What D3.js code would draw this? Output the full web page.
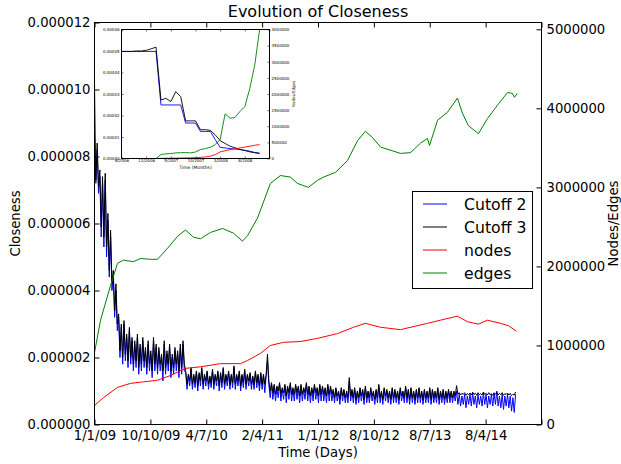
<!DOCTYPE html>
<html><head><meta charset="utf-8">
<script src="https://cdn.jsdelivr.net/npm/d3@7/dist/d3.min.js"></script>
<style>
body{margin:0;background:#fff}
svg{display:block;font-family:"DejaVu Sans",sans-serif}
</style>
</head><body>
<svg id="chart" width="621" height="464"></svg>
<script>
// ---------------- DATA ----------------
const xTickDays = [0, 250, 500, 750, 1000, 1250, 1500, 1750, 2000];
const xTickLabels = ["1/1/09", "10/10/09", "4/7/10", "2/4/11", "1/1/12", "8/10/12", "8/7/13", "8/4/14", ""];
const closenessTicks = [0, 2e-6, 4e-6, 6e-6, 8e-6, 10e-6, 12e-6];
const countTicks = [0, 1000000, 2000000, 3000000, 4000000, 5000000];
const sampleStepDays = 6; // one closeness sample every 6 days
// closeness values in units of 1e-6
const cutoff2 = [
  10.2, 7.2, 8.2, 6.9, 7.4, 5.6, 7.2, 5.3, 7.3, 5.0, 6.1, 4.4, 5.6, 4.0, 4.4, 3.2, 4.0, 2.8,
  3.2, 2.0, 2.9, 1.8, 3.0, 1.9, 2.6, 1.7, 2.8, 1.8, 2.5, 1.6, 2.4, 1.7, 2.6, 1.5, 2.3, 1.6, 2.5, 1.7,
  2.2, 1.5, 2.4, 1.6, 2.1, 1.4, 2.5, 1.6, 2.3, 1.5, 2.2, 1.6, 2.0, 1.3, 2.4, 1.5, 2.1, 1.6, 2.3, 1.4,
  2.0, 1.5, 2.2, 1.6, 2.1, 1.4, 2.3, 1.5, 2.4, 1.6,
  1.55, 1.05, 1.45, 1.15, 1.65, 1.05, 1.45, 1.1, 1.55, 1.0, 1.5, 1.15, 1.65, 1.05, 1.45, 1.15, 1.55, 1.05, 1.4, 1.1,
  1.6, 1.05, 1.45, 1.15, 1.55, 1.0, 1.5, 1.1, 1.65, 1.05, 1.45, 1.15, 1.55, 1.05, 1.45, 1.1, 1.7, 1.05, 1.45, 1.15,
  1.55, 1.0, 1.45, 1.1, 1.6, 1.05, 1.45, 1.15, 1.5, 1.05, 1.4, 1.05, 1.55, 1.1, 1.45, 1.0, 1.5, 1.05, 1.45, 0.95,
  1.45, 1.9, 1.2, 0.8, 1.2, 0.75, 1.15, 0.7, 1.1, 0.8, 1.2, 0.7, 1.05, 0.75, 1.15, 0.65, 1.1, 0.75, 1.2, 0.7,
  1.05, 0.7, 1.15, 0.75, 1.1, 0.65, 1.15, 0.7, 1.05, 0.75, 1.2, 0.7, 1.1, 0.65, 1.05, 0.7, 1.15, 0.75, 1.05, 0.65,
  1.15, 0.7, 1.1, 0.7, 1.05, 0.65, 1.15, 0.7, 1.1, 0.7,
  1.0, 0.65, 1.05, 0.7, 0.95, 0.6, 1.05, 0.7, 1.0, 0.65, 0.95, 0.65, 1.3, 0.7, 1.0, 0.65, 1.05, 0.6, 0.95, 0.65,
  1.05, 0.7, 1.0, 0.6, 1.1, 0.65, 0.95, 0.65, 1.05, 0.7, 0.95, 0.6, 1.0, 0.65, 1.15, 0.65, 0.95, 0.6, 1.05, 0.7,
  1.0, 0.65, 0.95, 0.6, 1.05, 0.65, 1.0, 0.65, 0.95, 0.6, 1.05, 0.7, 0.95, 0.65, 1.1, 0.65, 1.0, 0.6, 1.05, 0.65,
  0.95, 0.6, 1.0, 0.65, 1.05, 0.65, 0.95, 0.6, 1.0, 0.65, 0.95, 0.65, 1.05, 0.6, 1.0, 0.65, 0.95, 0.65, 1.05, 0.6,
  0.95, 0.65, 1.0, 0.6, 0.95, 0.65, 1.0, 0.65, 0.95, 0.65, 0.95, 0.7,
  1.0, 0.6, 0.9, 0.55, 0.85, 0.6, 0.9, 0.5, 0.85, 0.6, 0.9, 0.55, 0.95, 0.6, 0.85, 0.5, 0.9, 0.6, 0.85, 0.55,
  0.95, 0.6, 0.9, 0.5, 0.85, 0.6, 0.9, 0.55, 0.95, 0.6, 1.0, 0.55, 0.85, 0.5, 0.9, 0.45, 0.85, 0.55, 0.9, 0.5,
  0.85, 0.4, 0.8, 0.36, 0.9
];
const cutoff3 = [
  8.6, 7.3, 8.4, 7.1, 7.6, 5.9, 7.4, 5.6, 7.5, 5.3, 6.3, 4.6, 5.8, 4.2, 4.6, 3.4, 4.2, 3.0,
  3.3, 2.2, 3.0, 2.0, 3.1, 2.1, 2.7, 1.9, 2.9, 2.0, 2.6, 1.8, 2.5, 1.9, 2.7, 1.7, 2.4, 1.8, 2.6, 1.9,
  2.3, 1.7, 2.5, 1.8, 2.2, 1.6, 2.6, 1.8, 2.4, 1.7, 2.3, 1.8, 2.1, 1.6, 2.5, 1.7, 2.2, 1.8, 2.4, 1.6,
  2.1, 1.7, 2.3, 1.8, 2.2, 1.6, 2.4, 1.7, 2.5, 1.8,
  1.6, 1.2, 1.5, 1.3, 1.7, 1.2, 1.5, 1.25, 1.6, 1.15, 1.55, 1.3, 1.7, 1.2, 1.5, 1.3, 1.6, 1.2, 1.45, 1.25,
  1.65, 1.2, 1.5, 1.3, 1.6, 1.15, 1.55, 1.25, 1.7, 1.2, 1.5, 1.3, 1.6, 1.2, 1.5, 1.25, 1.75, 1.2, 1.5, 1.3,
  1.6, 1.15, 1.5, 1.25, 1.65, 1.2, 1.5, 1.3, 1.55, 1.2, 1.45, 1.2, 1.6, 1.25, 1.5, 1.15, 1.55, 1.2, 1.5, 1.2,
  1.5, 2.1, 1.3, 1.0, 1.25, 0.95, 1.2, 0.9, 1.15, 1.0, 1.25, 0.9, 1.1, 0.95, 1.2, 0.85, 1.15, 0.95, 1.25, 0.9,
  1.1, 0.9, 1.2, 0.95, 1.15, 0.85, 1.2, 0.9, 1.1, 0.95, 1.25, 0.9, 1.15, 0.85, 1.1, 0.9, 1.2, 0.95, 1.1, 0.85,
  1.2, 0.9, 1.15, 0.9, 1.1, 0.85, 1.2, 0.9, 1.15, 0.9,
  1.05, 0.8, 1.1, 0.85, 1.0, 0.75, 1.1, 0.85, 1.05, 0.8, 1.0, 0.8, 1.4, 0.85, 1.05, 0.8, 1.1, 0.75, 1.0, 0.8,
  1.1, 0.85, 1.05, 0.75, 1.15, 0.8, 1.0, 0.8, 1.1, 0.85, 1.0, 0.75, 1.05, 0.8, 1.2, 0.8, 1.0, 0.75, 1.1, 0.85,
  1.05, 0.8, 1.0, 0.75, 1.1, 0.8, 1.05, 0.8, 1.0, 0.75, 1.1, 0.85, 1.0, 0.8, 1.15, 0.8, 1.05, 0.75, 1.1, 0.8,
  1.0, 0.75, 1.05, 0.8, 1.1, 0.8, 1.0, 0.75, 1.05, 0.8, 1.0, 0.8, 1.1, 0.75, 1.05, 0.8, 1.0, 0.8, 1.1, 0.75,
  1.0, 0.8, 1.05, 0.75, 1.0, 0.8, 1.05, 0.8, 1.0, 0.8, 1.0, 0.85,
  1.16, 0.9, 0.95, 0.88, 0.93, 0.9, 0.95, 0.87, 0.92, 0.89, 0.94, 0.88, 0.96, 0.9, 0.93, 0.87, 0.95, 0.89, 0.92, 0.88,
  0.97, 0.9, 0.93, 0.88, 0.95, 0.89, 0.92, 0.87, 0.94, 0.9, 0.96, 0.88, 0.93, 0.89, 0.95, 0.87, 0.92, 0.9, 0.94, 0.88,
  0.93, 0.86, 0.9, 0.88, 0.97
];
// nodes / edges in millions
const nodeDays = [0, 40, 103, 161, 219, 282, 340, 407, 474, 564, 653, 685, 743, 787, 846, 922, 998, 1087, 1159, 1212, 1280, 1369, 1490, 1548, 1624, 1669, 1718, 1758, 1816, 1852, 1888];
const nodeValues = [0.24, 0.34, 0.47, 0.52, 0.54, 0.56, 0.62, 0.71, 0.73, 0.77, 0.77, 0.81, 0.90, 1.00, 1.04, 1.05, 1.09, 1.15, 1.23, 1.28, 1.23, 1.20, 1.28, 1.32, 1.37, 1.30, 1.27, 1.32, 1.28, 1.25, 1.18];
const edgeDays = [0, 27, 72, 103, 130, 174, 206, 251, 282, 327, 371, 407, 443, 474, 519, 573, 622, 662, 685, 729, 787, 832, 877, 908, 957, 998, 1025, 1078, 1132, 1177, 1212, 1244, 1280, 1369, 1414, 1459, 1490, 1499, 1535, 1579, 1624, 1646, 1673, 1718, 1758, 1803, 1848, 1870, 1879, 1892];
const edgeValues = [0.91, 1.32, 1.76, 2.04, 2.08, 2.06, 2.10, 2.09, 2.09, 2.23, 2.38, 2.46, 2.37, 2.35, 2.43, 2.48, 2.42, 2.32, 2.39, 2.61, 3.05, 3.15, 3.13, 3.05, 3.00, 3.09, 3.13, 3.19, 3.34, 3.59, 3.71, 3.63, 3.51, 3.43, 3.44, 3.56, 3.62, 3.53, 3.85, 3.95, 4.13, 3.94, 3.78, 3.68, 3.87, 4.04, 4.20, 4.19, 4.14, 4.19];
const legendLabels = ["Cutoff 2", "Cutoff 3", "nodes", "edges"];
const seriesColors = ["#0000ff", "#000000", "#ff0000", "#008000"];

// inset (monthly)
const insetMonthTicks = [0, 5, 10, 15, 20, 25, 30];
const insetMonthLabels = ["6/2006", "12/2006", "5/2007", "10/2007", "3/2008", "8/2008", ""];
const insetClosenessTicks = [0, 1e-5, 2e-5, 3e-5, 4e-5, 5e-5, 6e-5];
const insetCountTicks = [0, 500000, 1000000, 1500000, 2000000, 2500000, 3000000, 3500000, 4000000];
// closeness in units of 1e-5, one value per month
const insetCutoff2 = [4.98, 4.98, 4.98, 4.98, 4.98, 4.98, 4.98, 4.98, 2.49, 2.49, 2.49, 2.49, 2.49, 1.65, 1.65, 1.65, 1.26, 1.26, 1.26, 0.88, 0.52, 0.49, 0.46, 0.44, 0.42, 0.38, 0.34, 0.28, 0.25];
const insetCutoff3 = [4.98, 4.98, 4.98, 5.0, 5.0, 5.03, 5.1, 5.18, 2.72, 2.80, 2.65, 3.11, 2.88, 1.75, 1.75, 1.75, 1.34, 1.34, 1.31, 1.1, 0.83, 0.7, 0.57, 0.5, 0.42, 0.37, 0.31, 0.27, 0.23];
const insetNodes = [0, 0, 0, 0, 0, 0, 0, 0, 5000, 8000, 10000, 12000, 15000, 18000, 20000, 25000, 35000, 50000, 72000, 120000, 205000, 240000, 277000, 300000, 328000, 355000, 380000, 410000, 430000];
const insetEdges = [0, 0, 0, 0, 0, 0, 0, 0, 123000, 144000, 154000, 174000, 180000, 185000, 174000, 200000, 277000, 308000, 349000, 431000, 585000, 1385000, 1250000, 1270000, 1456000, 1610000, 2170000, 2890000, 4000000];

// ---------------- LAYOUT ----------------
const svg = d3.select("#chart");
svg.append("rect").attr("width", 621).attr("height", 464).attr("fill", "#fff");
const P = {left: 94.5, right: 541.5, top: 22.5, bottom: 424.5};
const tickFont = "13.2px";

const x = d3.scaleLinear().domain([0, 2000]).range([P.left, P.right]);
const yL = d3.scaleLinear().domain([0, 12e-6]).range([P.bottom, P.top]);
const yR = d3.scaleLinear().domain([0, 5.086e6]).range([P.bottom, P.top]);

const defs = svg.append("defs");
defs.append("clipPath").attr("id", "mainClip").append("rect")
  .attr("x", P.left).attr("y", P.top).attr("width", P.right - P.left).attr("height", P.bottom - P.top);

const plot = svg.append("g").attr("clip-path", "url(#mainClip)");
const lineC = d3.line().x((d, i) => x(i * sampleStepDays)).y(d => yL(d * 1e-6));
plot.append("path").attr("d", lineC(cutoff2)).attr("fill", "none").attr("stroke", seriesColors[0]).attr("stroke-width", 1);
plot.append("path").attr("d", lineC(cutoff3)).attr("fill", "none").attr("stroke", seriesColors[1]).attr("stroke-width", 1);
const lineCount = d3.line().x(d => x(d[0])).y(d => yR(d[1] * 1e6));
plot.append("path").attr("d", lineCount(d3.zip(nodeDays, nodeValues))).attr("fill", "none").attr("stroke", seriesColors[2]).attr("stroke-width", 1);
plot.append("path").attr("d", lineCount(d3.zip(edgeDays, edgeValues))).attr("fill", "none").attr("stroke", seriesColors[3]).attr("stroke-width", 1);

// axes
function styleAxis(g, size) {
  g.select(".domain").remove();
  g.selectAll("text").attr("font-size", size).attr("font-family", '"DejaVu Sans",sans-serif').attr("fill", "#000");
  g.selectAll("line").attr("stroke", "#000");
}
svg.append("g").attr("transform", `translate(${P.left},0)`)
  .call(d3.axisLeft(yL).tickValues(closenessTicks).tickFormat(d3.format(".6f")).tickSize(-5).tickPadding(4))
  .call(g => styleAxis(g, tickFont));
svg.append("g").attr("transform", `translate(${P.right},0)`)
  .call(d3.axisRight(yR).tickValues(countTicks).tickFormat(d3.format("d")).tickSize(-5).tickPadding(5))
  .call(g => styleAxis(g, tickFont));
svg.append("g").attr("transform", `translate(0,${P.bottom})`)
  .call(d3.axisBottom(x).tickValues(xTickDays).tickFormat((d, i) => xTickLabels[i]).tickSize(-5).tickPadding(6))
  .call(g => styleAxis(g, tickFont));
svg.append("g").attr("transform", `translate(0,${P.top})`)
  .call(d3.axisTop(x).tickValues(xTickDays).tickFormat("").tickSize(-5))
  .call(g => styleAxis(g, tickFont));
svg.append("rect").attr("x", P.left).attr("y", P.top).attr("width", P.right - P.left).attr("height", P.bottom - P.top)
  .attr("fill", "none").attr("stroke", "#000").attr("stroke-width", 1);

// titles
svg.append("text").attr("x", (P.left + P.right) / 2).attr("y", 17).attr("text-anchor", "middle")
  .attr("font-size", "16px").text("Evolution of Closeness");
svg.append("text").attr("x", (P.left + P.right) / 2).attr("y", 457).attr("text-anchor", "middle")
  .attr("font-size", tickFont).text("Time (Days)");
svg.append("text").attr("transform", `translate(20,${(P.top + P.bottom) / 2}) rotate(-90)`).attr("text-anchor", "middle")
  .attr("font-size", tickFont).text("Closeness");
svg.append("text").attr("transform", `translate(618,${(P.top + P.bottom) / 2}) rotate(-90)`).attr("text-anchor", "middle")
  .attr("font-size", tickFont).text("Nodes/Edges");

// legend
const lg = svg.append("g");
lg.append("rect").attr("x", 412.5).attr("y", 191.5).attr("width", 120).attr("height", 97)
  .attr("fill", "#fff").attr("stroke", "#000").attr("stroke-width", 1);
legendLabels.forEach((lab, i) => {
  const cy = 204 + i * 23;
  lg.append("line").attr("x1", 423).attr("x2", 447).attr("y1", cy).attr("y2", cy)
    .attr("stroke", seriesColors[i]).attr("stroke-width", 1);
  lg.append("text").attr("x", 464).attr("y", cy).attr("dy", "0.36em").attr("font-size", "15.7px").text(lab);
});

// ---------------- INSET ----------------
const I = {left: 121.5, right: 269.5, top: 29.5, bottom: 158.5};
const ix = d3.scaleLinear().domain([0, 30]).range([I.left, I.right]);
const iyL = d3.scaleLinear().domain([0, 6e-5]).range([I.bottom, I.top]);
const iyR = d3.scaleLinear().domain([0, 4e6]).range([I.bottom, I.top]);
const ins = svg.append("g");
ins.append("rect").attr("x", I.left).attr("y", I.top).attr("width", I.right - I.left).attr("height", I.bottom - I.top).attr("fill", "#fff");
defs.append("clipPath").attr("id", "insetClip").append("rect")
  .attr("x", I.left).attr("y", I.top - 1).attr("width", I.right - I.left).attr("height", I.bottom - I.top + 1);
const iplot = ins.append("g").attr("clip-path", "url(#insetClip)");
const ilC = d3.line().x((d, i) => ix(i)).y(d => iyL(d * 1e-5));
const ilN = d3.line().x((d, i) => ix(i)).y(d => iyR(d));
iplot.append("path").attr("d", ilC(insetCutoff2)).attr("fill", "none").attr("stroke", seriesColors[0]).attr("stroke-width", 0.9);
iplot.append("path").attr("d", ilC(insetCutoff3)).attr("fill", "none").attr("stroke", seriesColors[1]).attr("stroke-width", 0.9);
iplot.append("path").attr("d", ilN(insetNodes)).attr("fill", "none").attr("stroke", seriesColors[2]).attr("stroke-width", 0.9);
iplot.append("path").attr("d", ilN(insetEdges)).attr("fill", "none").attr("stroke", seriesColors[3]).attr("stroke-width", 0.9);
const iFont = "4px";
ins.append("g").attr("transform", `translate(${I.left},0)`)
  .call(d3.axisLeft(iyL).tickValues(insetClosenessTicks).tickFormat(d3.format(".5f")).tickSize(-2).tickPadding(2))
  .call(g => styleAxis(g, iFont));
ins.append("g").attr("transform", `translate(${I.right},0)`)
  .call(d3.axisRight(iyR).tickValues(insetCountTicks).tickFormat(d3.format("d")).tickSize(-2).tickPadding(2))
  .call(g => styleAxis(g, iFont));
ins.append("g").attr("transform", `translate(0,${I.bottom})`)
  .call(d3.axisBottom(ix).tickValues(insetMonthTicks).tickFormat((d, i) => insetMonthLabels[i]).tickSize(-2).tickPadding(1))
  .call(g => styleAxis(g, iFont));
ins.append("g").attr("transform", `translate(0,${I.top})`)
  .call(d3.axisTop(ix).tickValues(insetMonthTicks).tickFormat("").tickSize(-2))
  .call(g => styleAxis(g, iFont));
ins.selectAll("line").attr("stroke-width", 0.6);
ins.append("rect").attr("x", I.left).attr("y", I.top).attr("width", I.right - I.left).attr("height", I.bottom - I.top)
  .attr("fill", "none").attr("stroke", "#000").attr("stroke-width", 1);
ins.append("text").attr("x", (I.left + I.right) / 2).attr("y", 169).attr("text-anchor", "middle")
  .attr("font-size", "4.5px").text("Time (Months)");
ins.append("text").attr("transform", `translate(295,${(I.top + I.bottom) / 2}) rotate(-90)`).attr("text-anchor", "middle")
  .attr("font-size", "4px").text("Nodes/Edges");
</script>
</body></html>
